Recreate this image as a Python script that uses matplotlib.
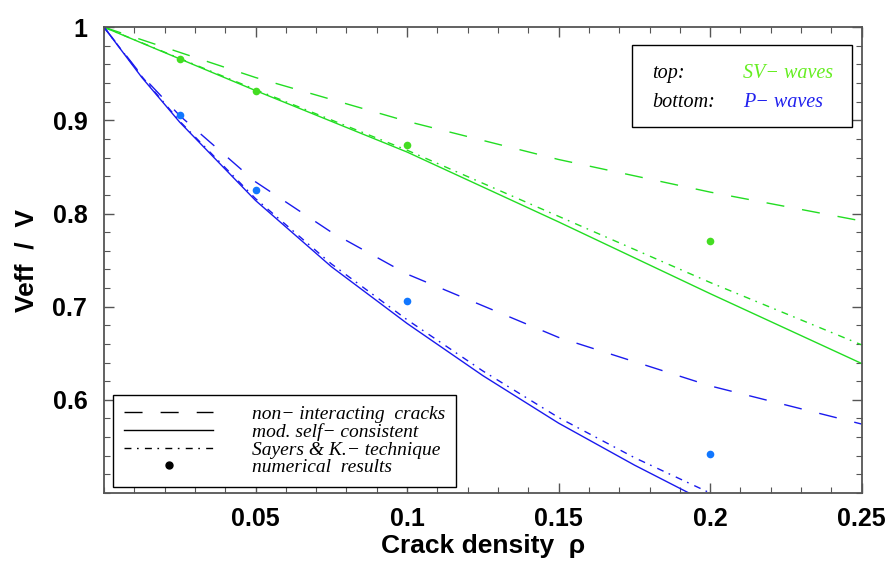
import matplotlib
matplotlib.use("Agg")
import matplotlib.pyplot as plt
from matplotlib.lines import Line2D
from matplotlib.patches import Rectangle
from matplotlib.ticker import MultipleLocator

GREEN = "#22dd22"; GREEN_DOT = "#44dd22"; GREEN_TXT = "#66ee22"
BLUE = "#1a1aee"; BLUE_DOT = "#1177ff"; BLUE_TXT = "#2222ee"
FRAME = "#555555"

# SV-waves (top curves)
sv_rho = [0.0, 0.05, 0.1, 0.15, 0.2, 0.25]
sv_nonint = [1.0, 0.946, 0.899, 0.858, 0.823, 0.792]
sv_msc = [1.0, 0.932, 0.866, 0.791, 0.714, 0.639]
sv_sk = [1.0, 0.933, 0.868, 0.797, 0.726, 0.659]
# P-waves (bottom curves)
p_rho_nonint = [0.0, 0.0125, 0.025, 0.05, 0.075, 0.1, 0.15, 0.2, 0.25]
p_nonint = [1.0, 0.948, 0.905, 0.834, 0.780, 0.735, 0.667, 0.615, 0.574]
p_rho_msc = [0.0, 0.0125, 0.025, 0.05, 0.075, 0.1, 0.125, 0.15, 0.175, 0.193]
p_msc = [1.0, 0.946, 0.898, 0.814, 0.743, 0.682, 0.626, 0.575, 0.530, 0.5]
p_rho_sk = [0.0, 0.0125, 0.025, 0.05, 0.075, 0.1, 0.125, 0.15, 0.175, 0.2]
p_sk = [1.0, 0.947, 0.899, 0.816, 0.746, 0.686, 0.631, 0.581, 0.538, 0.5]
# numerical results
num_rho = [0.025, 0.05, 0.1, 0.2]
num_sv = [0.966, 0.932, 0.874, 0.771]
num_p = [0.906, 0.825, 0.706, 0.542]

plt.rcParams["font.family"] = ["Liberation Sans", "DejaVu Sans"]
fig = plt.figure(figsize=(8.92, 5.67), dpi=100)
ax = fig.add_axes([0.1166, 0.1305, 0.8494, 0.8215])

DASH = (0, (13, 13))
DASHDOT = (0, (5, 4, 1.2, 4.5))
ax.plot(sv_rho, sv_nonint, color=GREEN, lw=1.0, linestyle=DASH)
ax.plot(sv_rho, sv_msc, color=GREEN, lw=1.0)
ax.plot(sv_rho, sv_sk, color=GREEN, lw=1.0, linestyle=DASHDOT)
ax.plot(p_rho_nonint, p_nonint, color=BLUE, lw=1.0, linestyle=DASH)
ax.plot(p_rho_msc, p_msc, color=BLUE, lw=1.0)
ax.plot(p_rho_sk, p_sk, color=BLUE, lw=1.0, linestyle=DASHDOT)
ax.plot(num_rho, num_sv, "o", color=GREEN_DOT, ms=5.5, mec="none")
ax.plot(num_rho, num_p, "o", color=BLUE_DOT, ms=5.5, mec="none")

ax.set_xlim(0, 0.25); ax.set_ylim(0.5, 1.0)
ax.set_xticks([0.05, 0.1, 0.15, 0.2, 0.25])
ax.set_xticklabels(["0.05", "0.1", "0.15", "0.2", "0.25"])
ax.set_yticks([0.6, 0.7, 0.8, 0.9, 1.0])
ax.set_yticklabels(["0.6", "0.7", "0.8", "0.9", "1"])
ax.xaxis.set_minor_locator(MultipleLocator(0.01))
ax.yaxis.set_minor_locator(MultipleLocator(0.02))
ax.tick_params(which="both", direction="in", top=True, right=True, color=FRAME,
               labelsize=18)
ax.tick_params(which="major", length=7, width=1)
ax.tick_params(which="minor", length=4, width=0.8)
for lab in ax.get_xticklabels() + ax.get_yticklabels():
    lab.set_fontweight("bold")
ax.tick_params(axis="x", pad=10)
ax.tick_params(axis="y", pad=12)
for s in ax.spines.values():
    s.set_color(FRAME); s.set_linewidth(1.3)

ax.set_xlabel("Crack density  ρ", fontsize=19, fontweight="bold", labelpad=2)
ax.set_ylabel("Veff  /  V", fontsize=19, fontweight="bold", labelpad=10)

# legend (bottom left)
handles = [Line2D([], [], color="black", lw=1.0, linestyle=DASH),
           Line2D([], [], color="black", lw=1.0),
           Line2D([], [], color="black", lw=1.0, linestyle=DASHDOT),
           Line2D([], [], color="black", marker="o", ms=5, linestyle="none")]
labels = ["non\u2212 interacting  cracks", "mod. self\u2212 consistent",
          "Sayers & K.\u2212 technique", "numerical  results"]
leg = ax.legend(handles, labels, loc="lower left", bbox_to_anchor=(0.012, 0.013),
                fancybox=False, edgecolor="black", framealpha=1, handlelength=4.6,
                handletextpad=2.0, borderpad=0.55, labelspacing=0.0,
                borderaxespad=0.0,
                prop={"family": "Liberation Serif", "style": "italic", "size": 14})
leg.get_frame().set_linewidth(1.0)

# wave-type box (top right)
ax.add_patch(Rectangle((0.697, 0.786), 0.29, 0.176, transform=ax.transAxes,
                       facecolor="white", edgecolor="black", lw=1.0, zorder=5))
tkw = dict(transform=ax.transAxes, family="Liberation Serif", style="italic",
           fontsize=14.5, va="center", zorder=6)
ax.text(0.724, 0.90, "top:", color="black", **tkw)
ax.text(0.843, 0.90, "SV\u2212 waves", color=GREEN_TXT, **tkw)
ax.text(0.724, 0.838, "bottom:", color="black", **tkw)
ax.text(0.843, 0.838, "P\u2212 waves", color=BLUE_TXT, **tkw)

fig.savefig("out.png", dpi=100, facecolor="white")
